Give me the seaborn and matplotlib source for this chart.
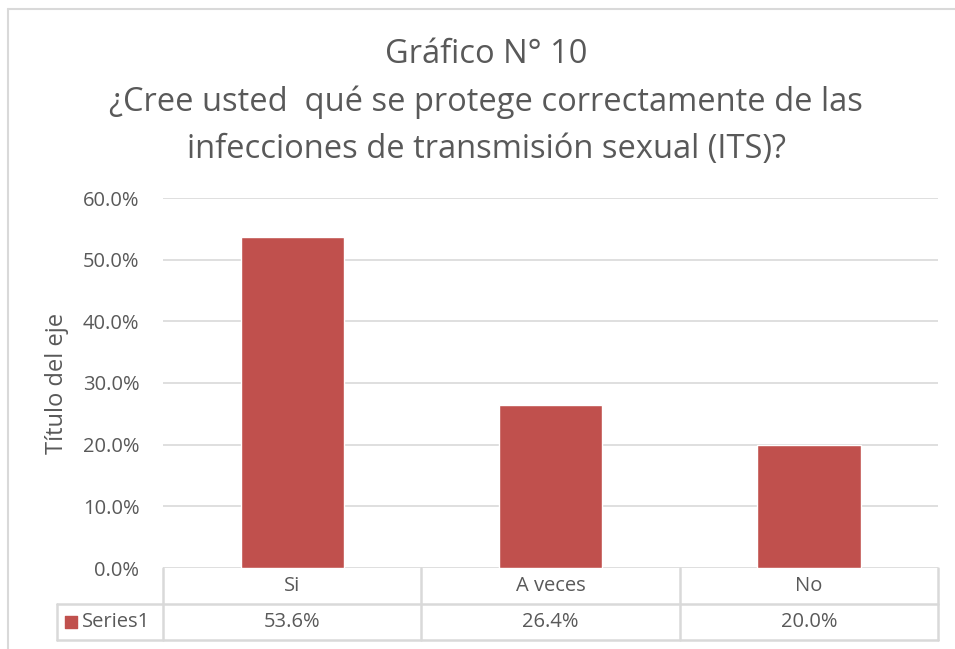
"""
Gráfico N° 10 - bar chart with Excel-style data table
"""

import matplotlib
matplotlib.use("Agg")
import matplotlib.pyplot as plt
import seaborn as sns
import pandas as pd
from matplotlib.ticker import PercentFormatter

categories = ["Si", "A veces", "No"]
values = [53.6, 26.4, 20.0]
series_name = "Series1"
yticks = [0, 10, 20, 30, 40, 50, 60]
title = "Gráfico N° 10\n¿Cree usted  qué se protege correctamente de las\ninfecciones de transmisión sexual (ITS)?"
ylabel = "Título del eje"

BAR = "#C0504D"
TEXT = "#595959"
GRID = "#D9D9D9"

sns.set_style("white")
plt.rcParams["font.family"] = ["Open Sans", "DejaVu Sans"]

W, H = 955, 649
fig = plt.figure(figsize=(W / 100, H / 100), dpi=100)


def px_axes(x0, y0, x1, y1):
    return fig.add_axes([x0 / W, 1 - y1 / H, (x1 - x0) / W, (y1 - y0) / H])


# main plot area
ax = px_axes(163, 198, 938, 568)
df = pd.DataFrame({"cat": categories, "val": values})
sns.barplot(data=df, x="cat", y="val", color=BAR, saturation=1, width=0.4, ax=ax)
ax.set_xlim(-0.5, len(categories) - 0.5)
ax.set_ylim(0, 60)
ax.set_yticks(yticks)
ax.yaxis.set_major_formatter(PercentFormatter(decimals=1))
ax.grid(axis="y", color=GRID, linewidth=1.2)
ax.set_axisbelow(True)
for s in ax.spines.values():
    s.set_visible(False)
ax.set_xlabel("")
ax.set_xticks([])
ax.tick_params(axis="y", length=0, labelsize=14.5, labelcolor=TEXT, pad=17)
ax.set_ylabel(ylabel, fontsize=17, color=TEXT)
ax.yaxis.set_label_coords((69 - 163) / 775, 0.5)

# data table below the plot
n = len(categories)
unit = (938 - 163) / n
left_ext = (163 - 57) / unit
x_left = -0.5 - left_ext
tab = px_axes(57, 568, 938, 640)
tab.set_xlim(x_left, n - 0.5)
tab.set_ylim(0, 2)
tab.axis("off")
kw = dict(color=GRID, linewidth=1.8, clip_on=False)
tab.plot([x_left, n - 0.5], [1, 1], **kw)
tab.plot([x_left, n - 0.5], [0, 0], **kw)
tab.plot([x_left, x_left], [0, 1], **kw)
for i in range(n + 1):
    tab.plot([i - 0.5, i - 0.5], [0, 2], **kw)
for i, (c, v) in enumerate(zip(categories, values)):
    tab.text(i, 1.5, c, ha="center", va="center", fontsize=14.5, color=TEXT)
    tab.text(i, 0.5, f"{v:.1f}%", ha="center", va="center", fontsize=14.5, color=TEXT)
tab.scatter([x_left + 14 / unit], [0.5], marker="s", s=65, color=BAR, clip_on=False)
tab.text(x_left + 25 / unit, 0.5, series_name, ha="left", va="center",
         fontsize=14.5, color=TEXT)

# title
fig.text(486 / W, 1 - 102 / H, title, ha="center", va="center", fontsize=23.5,
         color=TEXT, linespacing=1.56)

# chart border
fig.add_artist(plt.Line2D([8 / W, 8 / W], [0, 1 - 9 / H], color=GRID, linewidth=1.5))
fig.add_artist(plt.Line2D([8 / W, 1], [1 - 9 / H, 1 - 9 / H], color=GRID, linewidth=1.5))

fig.savefig("out.png", dpi=100)
